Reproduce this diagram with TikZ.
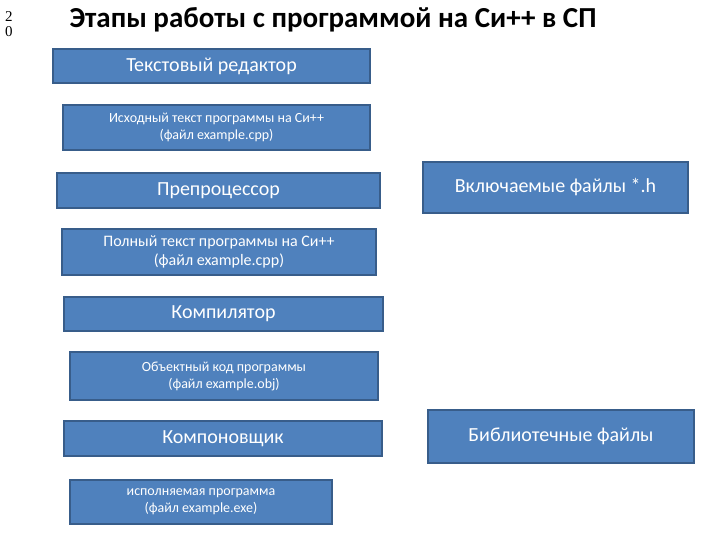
\documentclass[tikz,border=0pt]{standalone}
\usepackage{fontspec}
\setmainfont{Carlito}
\newfontfamily\serifnum{Liberation Serif}
\definecolor{boxblue}{HTML}{4F81BD}
\definecolor{boxedge}{HTML}{385D8A}
\begin{document}
\begin{tikzpicture}[x=1pt,y=-1pt,
  bx/.style={draw=boxedge,line width=1.5pt,fill=boxblue,text=white,align=center,inner sep=0pt}]
\useasboundingbox (0,0) rectangle (720,540);
\node[font=\serifnum\fontsize{15}{15}\selectfont,align=center] (pg) at (9,24) {2\\0};
\node[font=\bfseries\fontsize{29}{30}\selectfont,anchor=west] (title) at (66,20) {Этапы работы с программой на Си++ в СП};
\newcommand\bxat[6]{\node[bx,minimum width={(#3-#1)*1pt},minimum height={(#4-#2)*1pt},font=\fontsize{#5}{\dimexpr#5pt+3pt\relax}\selectfont] (#6) at ({(#1+#3)/2},{(#2+#4)/2})}
\bxat{53}{49}{370}{83}{20}{b1} {Текстовый редактор};
\bxat{63}{105}{370}{150}{14}{b2} {Исходный текст программы на Си++\\(файл example.cpp)};
\bxat{57}{173}{380}{208}{20}{b3} {Препроцессор};
\bxat{423}{162}{688}{213}{20}{b4} {Включаемые файлы *.h};
\bxat{62}{229}{376}{275}{16}{b5} {Полный текст программы на Си++\\(файл example.cpp)};
\bxat{64}{297}{383}{331}{20}{b6} {Компилятор};
\bxat{70}{352}{378}{400}{14}{b7} {Объектный код программы\\(файл example.obj)};
\bxat{64}{421}{382}{456}{20}{b8} {Компоновщик};
\bxat{428}{410}{694}{463}{20}{b9} {Библиотечные файлы};
\bxat{70}{480}{332}{524}{14}{b10} {исполняемая программа\\(файл example.exe)};
\end{tikzpicture}
\end{document}
